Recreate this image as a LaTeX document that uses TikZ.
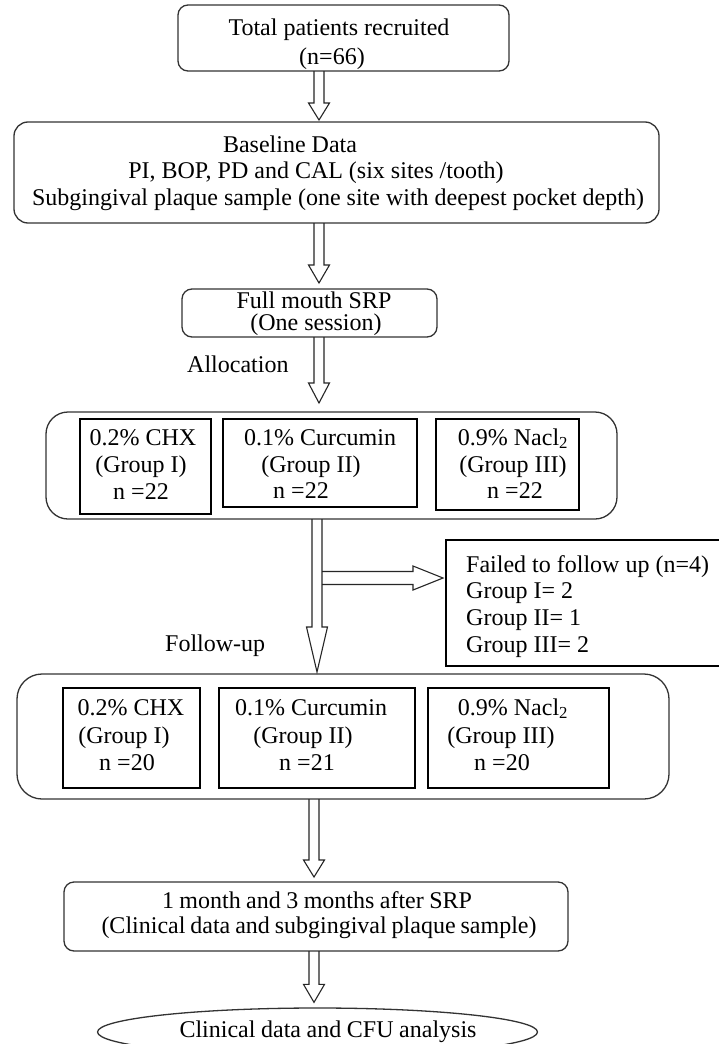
\documentclass[tikz,border=0pt]{standalone}
\usepackage{fontspec}
\setmainfont{Liberation Serif}
\usetikzlibrary{calc,shapes.geometric}
\newcommand\mainfs{\fontsize{24}{28}\selectfont}

\tikzset{
  rbox/.style={draw=black!80, line width=1.3pt, rounded corners=#1, inner sep=0pt, outer sep=0pt},
  rbox/.default=10pt,
  sqbox/.style={draw=black, line width=1.3pt, inner sep=0pt, outer sep=0pt},
  txt/.style={anchor=base, inner sep=0pt, font=\mainfs},
  ltxt/.style={anchor=base west, inner sep=0pt, font=\mainfs},
  % hollow block arrow: shaft half width, head half width, head length
  shaftw/.store in=\shaftw, shaftw=5pt,
  headw/.store in=\headw, headw=10.5pt,
  headl/.store in=\headl, headl=18pt,
  blockarrow/.style={draw=black!85, line width=1.1pt, to path={
    ($(\tikztostart)!\shaftw!90:(\tikztotarget)$)
    -- ($(\tikztotarget)!\headl!(\tikztostart)!\shaftw!-90:(\tikztostart)$)
    -- ($(\tikztotarget)!\headl!(\tikztostart)!\headw!-90:(\tikztostart)$)
    -- (\tikztotarget)
    -- ($(\tikztotarget)!\headl!(\tikztostart)!\headw!90:(\tikztostart)$)
    -- ($(\tikztotarget)!\headl!(\tikztostart)!\shaftw!90:(\tikztostart)$)
    -- ($(\tikztostart)!\shaftw!-90:(\tikztotarget)$)
  }}
}

\begin{document}
\begin{tikzpicture}[x=1pt,y=-1pt]
\fill[white] (0,0) rectangle (719,1044);
\useasboundingbox (0,0) rectangle (719,1044);

% columns of the vertical arrows
\coordinate (colA) at (319,0);
\coordinate (colB) at (317,0);
\coordinate (colC) at (314,0);

% recruitment
\node[rbox=10pt, minimum width=331pt, minimum height=66pt] (b1) at (343.5,38) {};
\node[txt] (t1a) at (339,35) {Total patients recruited};
\node[txt] (t1b) at (332,64) {(n=66)};

% baseline data
\node[rbox=14pt, minimum width=645pt, minimum height=101pt] (b2) at (336.5,172.5) {};
\node[txt] (t2a) at (290,152) {Baseline Data};
\node[txt] (t2b) at (316,178) {PI, BOP, PD and CAL (six sites /tooth)};
\node[txt] (t2c) at (338,205) {Subgingival plaque sample (one site with deepest pocket depth)};

% SRP
\node[rbox=10pt, minimum width=255pt, minimum height=48pt] (b3) at (309.5,313) {};
\node[txt] (t3a) at (314,308) {Full mouth SRP};
\node[txt] (t3b) at (316,330) {(One session)};

\node[ltxt] (alloc) at (187,372) {Allocation};

% allocation groups
\node[rbox=22pt, minimum width=571pt, minimum height=107pt] (b4) at (331.5,465.5) {};
\node[sqbox, minimum width=131pt, minimum height=95pt] (b4a) at (145.5,466.5) {};
\node[sqbox, minimum width=194pt, minimum height=88pt] (b4b) at (320,463) {};
\node[sqbox, minimum width=143pt, minimum height=91pt] (b4c) at (507.5,464.5) {};
\node[txt] (t4a1) at (143,445) {0.2\% CHX};
\node[txt] (t4a2) at (141,472) {(Group I)};
\node[txt] (t4a3) at (141,499) {n =22};
\node[txt] (t4b1) at (320,445) {0.1\% Curcumin};
\node[txt] (t4b2) at (311,472) {(Group II)};
\node[txt] (t4b3) at (301,498) {n =22};
\node[txt] (t4c1) at (513,445) {0.9\% Nacl\textsubscript{2}};
\node[txt] (t4c2) at (513,472) {(Group III)};
\node[txt] (t4c3) at (515,498) {n =22};

% losses
\node[sqbox, minimum width=284pt, minimum height=126pt] (fail) at (588,603) {};
\node[ltxt] (f1) at (466,572) {Failed to follow up (n=4)};
\node[ltxt] (f2) at (466,598) {Group I= 2};
\node[ltxt] (f3) at (466,625) {Group II= 1};
\node[ltxt] (f4) at (466,652) {Group III= 2};

\node[ltxt] (follow) at (165,651) {Follow-up};

% follow-up groups
\node[rbox=25pt, minimum width=652pt, minimum height=125pt] (b5) at (343,736.5) {};
\node[sqbox, minimum width=137pt, minimum height=100pt] (b5a) at (131.5,738) {};
\node[sqbox, minimum width=196pt, minimum height=100pt] (b5b) at (317,738) {};
\node[sqbox, minimum width=181pt, minimum height=100pt] (b5c) at (518.5,738) {};
\node[txt] (t5a1) at (131,715) {0.2\% CHX};
\node[txt] (t5a2) at (124,743) {(Group I)};
\node[txt] (t5a3) at (127,770) {n =20};
\node[txt] (t5b1) at (311,715) {0.1\% Curcumin};
\node[txt] (t5b2) at (303,743) {(Group II)};
\node[txt] (t5b3) at (307,770) {n =21};
\node[txt] (t5c1) at (513,715) {0.9\% Nacl\textsubscript{2}};
\node[txt] (t5c2) at (501,743) {(Group III)};
\node[txt] (t5c3) at (502,770) {n =20};

% evaluation
\node[rbox=10pt, minimum width=504pt, minimum height=69pt] (b6) at (316,916.5) {};
\node[txt] (t6a) at (317,908) {\makebox[310pt][s]{1 month and 3 months after SRP}};
\node[txt] (t6b) at (319,933) {\makebox[435pt][s]{(Clinical data and subgingival plaque sample)}};

\node[ellipse, draw=black!80, line width=1.3pt, inner sep=0pt, minimum width=440pt, minimum height=48pt] (ell) at (317.5,1032) {};
\node[txt] (t7) at (328,1037) {\makebox[297pt][s]{Clinical data and CFU analysis}};

% block arrows
\draw[blockarrow, headl=17pt] (b1.south -| colA) to ($(b2.north -| colA)+(0,-2)$);
\draw[blockarrow, headl=18pt] (b2.south -| colA) to ($(b3.north -| colA)+(0,-6)$);
\draw[blockarrow, headl=20pt] (b3.south -| colA) to ($(b4.north -| colA)+(0,-9)$);
\draw[blockarrow, headl=45pt] (b4.south -| colB) to ($(b5.north -| colB)+(0,-2)$);
\coordinate (sidestart) at (322,578);
\draw[blockarrow, shaftw=6.5pt, headw=12pt, headl=30pt] (sidestart) to ($(fail.west |- sidestart)+(-3,0)$);
\draw[blockarrow, headl=17pt] (b5.south -| colC) to ($(b6.north -| colC)+(0,-5)$);
\draw[blockarrow, headl=18pt] (b6.south -| colC) to ($(ell.north -| colC)+(0,-5)$);
\end{tikzpicture}
\end{document}
